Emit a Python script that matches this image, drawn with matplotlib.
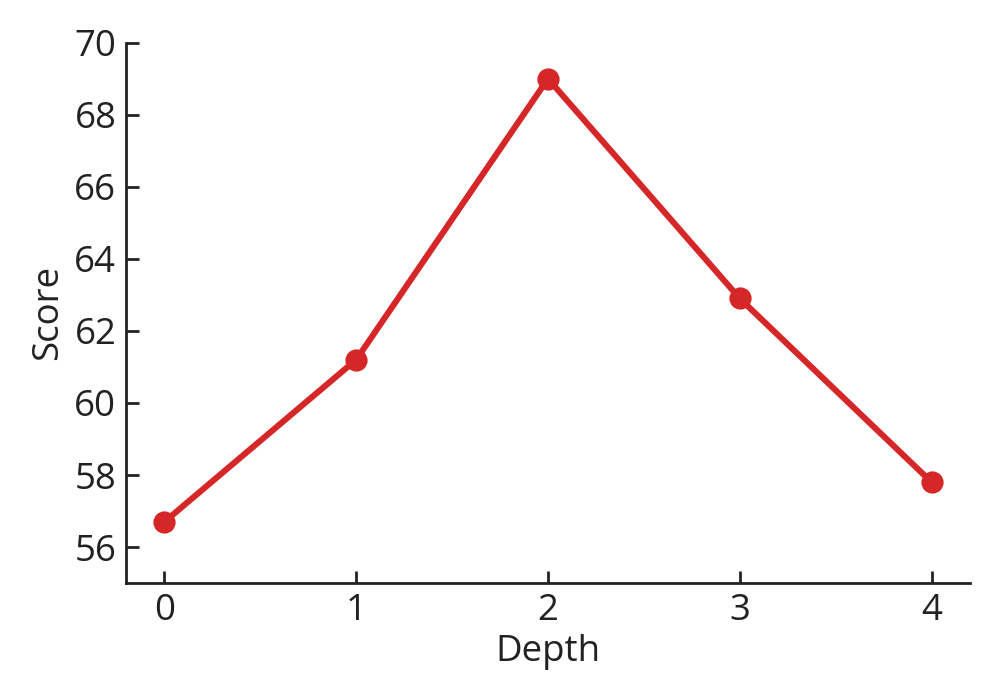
import matplotlib
matplotlib.use('Agg')
import matplotlib.pyplot as plt

# data
depth = [0, 1, 2, 3, 4]
score = [56.7, 61.2, 69.0, 62.9, 57.8]

plt.rcParams['font.family'] = ['Open Sans', 'DejaVu Sans']

fig, ax = plt.subplots(figsize=(5, 3.5), dpi=200)
fig.subplots_adjust(left=0.126, right=0.97, top=0.939, bottom=0.167)

ax.plot(depth, score, color='#d62728', lw=2.2, marker='o', markersize=7)

ax.set_xlim(-0.2, 4.2)
ax.set_ylim(55, 70)
ax.set_xticks(depth)
ax.set_yticks([56, 58, 60, 62, 64, 66, 68, 70])
ax.set_xlabel('Depth', fontsize=13.2, color='#222222', labelpad=2)
ax.set_ylabel('Score', fontsize=13.2, color='#222222', labelpad=3)

for side in ['top', 'right']:
    ax.spines[side].set_visible(False)
for side in ['left', 'bottom']:
    ax.spines[side].set_linewidth(1.0)
    ax.spines[side].set_color('#222222')
ax.tick_params(direction='in', length=4.5, width=1.0, color='#222222',
               labelsize=13.2, labelcolor='#222222', pad=3.5)

fig.savefig('out.png', dpi=200)
